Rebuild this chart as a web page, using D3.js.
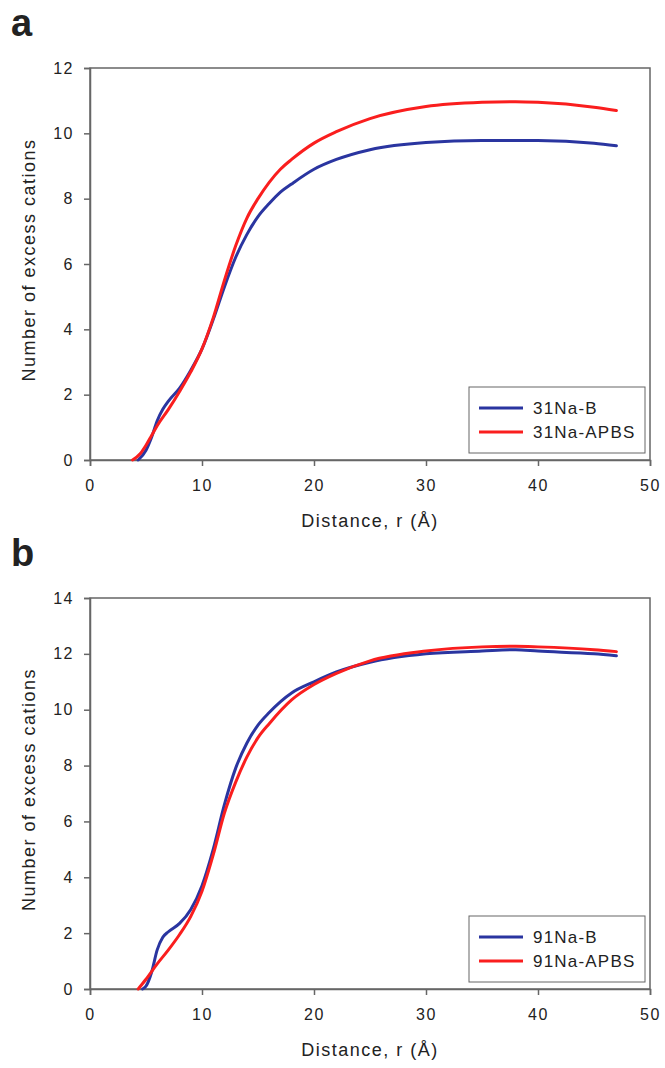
<!DOCTYPE html>
<html>
<head>
<meta charset="utf-8">
<script src="https://cdn.jsdelivr.net/npm/d3@7"></script>
<style>
  body { margin: 0; background: #fff; }
  text { font-family: "Liberation Sans", Arial, sans-serif; fill: #222; }
</style>
</head>
<body>
<div id="chart"></div>
<script>
//Colores
const COLOR_BLUE = '#2a35a0',
COLOR_RED = '#fa1e1e',
COLOR_AXIS = '#666';

//Datos panel a
const a_B_x = [4.3, 5, 5.5, 6, 6.5, 7, 8, 9, 10, 11, 12, 13, 14, 15, 16, 17, 18, 20, 22, 25, 30, 35, 40, 45, 47];
const a_B_y = [0, 0.3, 0.7, 1.2, 1.55, 1.8, 2.2, 2.75, 3.4, 4.3, 5.3, 6.2, 6.9, 7.45, 7.85, 8.2, 8.45, 8.9, 9.2, 9.5, 9.72, 9.78, 9.78, 9.7, 9.62];
const a_A_x = [3.8, 4.5, 5, 5.5, 6, 7, 8, 9, 10, 11, 12, 13, 14, 15, 16, 17, 18, 20, 22, 25, 30, 35, 38, 40, 45, 47];
const a_A_y = [0, 0.2, 0.45, 0.75, 1.05, 1.55, 2.1, 2.7, 3.4, 4.35, 5.5, 6.55, 7.4, 8.0, 8.5, 8.9, 9.2, 9.7, 10.05, 10.45, 10.82, 10.95, 10.97, 10.95, 10.8, 10.7];

//Datos panel b
const b_B_x = [4.7, 5, 5.5, 6, 6.5, 7, 8, 9, 10, 11, 12, 13, 14, 15, 16, 18, 20, 22, 25, 30, 35, 38, 40, 45, 47];
const b_B_y = [0, 0.1, 0.6, 1.4, 1.85, 2.05, 2.35, 2.85, 3.7, 5.0, 6.6, 7.9, 8.8, 9.45, 9.9, 10.6, 11.0, 11.35, 11.7, 12.0, 12.1, 12.15, 12.1, 12.0, 11.93];
const b_A_x = [4.3, 5, 6, 7, 8, 9, 10, 11, 12, 13, 14, 15, 16, 18, 20, 22, 25, 30, 35, 38, 40, 45, 47];
const b_A_y = [0, 0.35, 0.9, 1.4, 1.95, 2.6, 3.5, 4.8, 6.3, 7.4, 8.3, 9.0, 9.5, 10.35, 10.9, 11.3, 11.75, 12.1, 12.25, 12.27, 12.25, 12.15, 12.08];

const xTicks = [0, 10, 20, 30, 40, 50];

const panels = [
    { letter: 'a', top: 68, bottom: 460, yMax: 12, yTicks: [0, 2, 4, 6, 8, 10, 12],
      series: [
        { name: '31Na-B', xs: a_B_x, ys: a_B_y, color: COLOR_BLUE },
        { name: '31Na-APBS', xs: a_A_x, ys: a_A_y, color: COLOR_RED }
      ] },
    { letter: 'b', top: 598, bottom: 989, yMax: 14, yTicks: [0, 2, 4, 6, 8, 10, 12, 14],
      series: [
        { name: '91Na-B', xs: b_B_x, ys: b_B_y, color: COLOR_BLUE },
        { name: '91Na-APBS', xs: b_A_x, ys: b_A_y, color: COLOR_RED }
      ] }
];

let svg = d3.select('#chart')
    .append('svg')
        .attr('width', 665)
        .attr('height', 1068);

let left = 90, right = 650;

panels.forEach(function(p) {
    let x = d3.scaleLinear().domain([0, 50]).range([left, right]);
    let y = d3.scaleLinear().domain([0, p.yMax]).range([p.bottom, p.top]);

    let g = svg.append('g');

    //Marco
    g.append('rect')
        .attr('x', left).attr('y', p.top)
        .attr('width', right - left).attr('height', p.bottom - p.top)
        .attr('fill', 'none').attr('stroke', COLOR_AXIS).attr('stroke-width', 1.5);

    //Ejes
    let xAxis = g.append('g')
        .attr('transform', 'translate(0,' + p.bottom + ')')
        .call(d3.axisBottom(x).tickValues(xTicks).tickSize(6).tickPadding(14));
    let yAxis = g.append('g')
        .attr('transform', 'translate(' + left + ',0)')
        .call(d3.axisLeft(y).tickValues(p.yTicks).tickSize(6).tickPadding(10));

    [xAxis, yAxis].forEach(function(ax) {
        ax.select('.domain').attr('stroke', COLOR_AXIS).attr('stroke-width', 1.5);
        ax.selectAll('.tick line').attr('stroke', COLOR_AXIS).attr('stroke-width', 1.5);
        ax.selectAll('.tick text')
            .attr('font-family', '"Liberation Sans", Arial, sans-serif')
            .attr('font-size', 16).attr('letter-spacing', 1.5).attr('fill', '#222');
    });

    //Curvas
    let line = d3.line()
        .x(function(d) { return x(d[0]); })
        .y(function(d) { return y(d[1]); })
        .curve(d3.curveMonotoneX);

    p.series.forEach(function(s) {
        let pts = s.xs.map(function(v, i) { return [v, s.ys[i]]; });
        g.append('path')
            .datum(pts)
            .attr('d', line)
            .attr('fill', 'none')
            .attr('stroke', s.color)
            .attr('stroke-width', 3)
            .attr('stroke-linecap', 'round');
    });

    //Leyenda
    let lx = 469, lw = 176, lh = 66;
    let ly = p.bottom - 7 - lh;
    g.append('rect')
        .attr('x', lx).attr('y', ly).attr('width', lw).attr('height', lh)
        .attr('fill', '#fff').attr('stroke', COLOR_AXIS).attr('stroke-width', 1);
    p.series.forEach(function(s, i) {
        let yy = ly + 21 + i * 24;
        g.append('line')
            .attr('x1', lx + 10).attr('x2', lx + 54)
            .attr('y1', yy).attr('y2', yy)
            .attr('stroke', s.color).attr('stroke-width', 3);
        g.append('text')
            .attr('x', lx + 64).attr('y', yy + 6)
            .attr('font-size', 17)
            .attr('letter-spacing', 1.2)
            .text(s.name);
    });

    //Títulos
    g.append('text')
        .attr('transform', 'translate(35,' + ((p.top + p.bottom) / 2 - 4) + ') rotate(-90)')
        .attr('text-anchor', 'middle')
        .attr('font-size', 18)
        .attr('letter-spacing', 1.5)
        .text('Number of excess cations');
    g.append('text')
        .attr('x', (left + right) / 2)
        .attr('y', p.bottom + 67)
        .attr('text-anchor', 'middle')
        .attr('font-size', 18)
        .attr('letter-spacing', 1.5)
        .text('Distance, r (Å)');

    g.append('text')
        .attr('x', 11)
        .attr('y', p.top - 32)
        .attr('font-size', 38)
        .attr('font-weight', 'bold')
        .attr('fill', '#000')
        .text(p.letter);
});
</script>
</body>
</html>
